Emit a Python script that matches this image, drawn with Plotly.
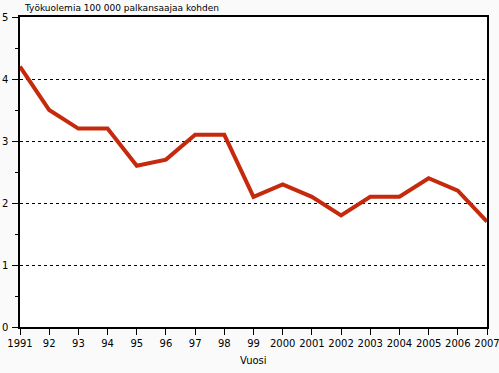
import plotly.graph_objects as go

years = list(range(1991, 2008))
values = [4.2, 3.5, 3.2, 3.2, 2.6, 2.7, 3.1, 3.1, 2.1, 2.3, 2.1, 1.8, 2.1, 2.1, 2.4, 2.2, 1.7]
tick_labels = ["1991", "92", "93", "94", "95", "96", "97", "98", "99",
               "2000", "2001", "2002", "2003", "2004", "2005", "2006", "2007"]

fig = go.Figure()
fig.add_trace(go.Scatter(x=years, y=values, mode="lines",
                         line=dict(color="#c62a0c", width=4), showlegend=False))

fig.update_layout(
    width=499, height=373,
    margin=dict(l=20, r=12, t=17, b=46),
    paper_bgcolor="#fafafa", plot_bgcolor="#ffffff",
    font=dict(family="DejaVu Sans", size=10, color="#000000"),
    annotations=[
        dict(text="Työkuolemia 100 000 palkansaajaa kohden", xref="paper", yref="paper",
             x=0, y=1, xanchor="left", yanchor="bottom", xshift=2, yshift=2,
             showarrow=False, font=dict(size=9)),
        dict(text="Vuosi", xref="paper", yref="paper", x=0.5, y=0, xanchor="center",
             yanchor="top", yshift=-26, showarrow=False, font=dict(size=10)),
    ],
)
fig.update_xaxes(range=[1991, 2007], tickvals=years, ticktext=tick_labels,
                 ticks="outside", ticklen=6, tickcolor="black", showgrid=False,
                 showline=True, linecolor="black", linewidth=1.5, mirror=True,
                 zeroline=False, tickangle=0, automargin=False, ticklabeloverflow="allow",
                 tickfont=dict(size=10))
fig.update_yaxes(range=[0, 5], dtick=1, ticks="outside", ticklen=6, tickcolor="black",
                 showgrid=True, gridcolor="black", griddash="3px,3px", gridwidth=1,
                 minor=dict(dtick=0.5, ticks="outside", ticklen=3, tickcolor="black", showgrid=False),
                 showline=True, linecolor="black", linewidth=1.5, mirror=True,
                 zeroline=False, automargin=False, ticklabeloverflow="allow",
                 ticklabelstandoff=2, tickfont=dict(size=10))

fig.write_html("out.html", config={"displayModeBar": False},
               post_script="document.body.style.margin='0';")
